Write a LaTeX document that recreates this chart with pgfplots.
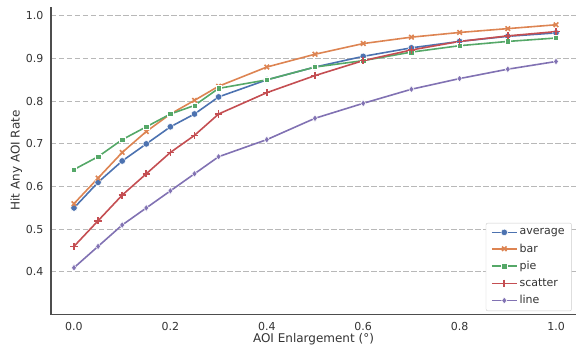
\documentclass[border=0pt]{standalone}
\usepackage{fontspec}
\setmainfont{DejaVu Sans}
\usepackage{pgfplots}
\pgfplotsset{compat=1.18}
\definecolor{cblue}{HTML}{4C72B0}
\definecolor{corange}{HTML}{DD8452}
\definecolor{cgreen}{HTML}{55A868}
\definecolor{cred}{HTML}{C44E52}
\definecolor{cpurple}{HTML}{8172B3}
\definecolor{spine}{HTML}{4D4D4D}
\definecolor{txt}{HTML}{333333}
\definecolor{gridc}{HTML}{B8B8B8}
\begin{document}
\begin{tikzpicture}
\useasboundingbox (-51pt,-36.5pt) rectangle (526pt,314.5pt);
\begin{axis}[
  at={(0,0)}, anchor=south west,
  scale only axis, width=525pt, height=308pt,
  xmin=-0.0477, xmax=1.0415, ymin=0.3004, ymax=1.0218,
  axis lines*=left,
  axis line style={spine, line width=1.2pt},
  separate axis lines,
  x axis line style={-}, y axis line style={-},
  xtick={0,0.2,0.4,0.6,0.8,1.0},
  ytick={0.4,0.5,0.6,0.7,0.8,0.9,1.0},
  major tick length=0pt,
  xticklabel style={font=\fontsize{11}{13}\selectfont, text=txt, yshift=-4pt},
  yticklabel style={font=\fontsize{11}{13}\selectfont, text=txt, xshift=-4pt},
  /pgf/number format/assume math mode=true,
  /pgf/number format/.cd, fixed, fixed zerofill, precision=1, /pgfplots/.cd,
  ymajorgrids,
  major grid style={gridc, line width=1pt, dash pattern=on 5.5pt off 2.5pt},
  xlabel={AOI Enlargement (°)},
  ylabel={Hit Any AOI Rate},
  label style={font=\fontsize{12}{14}\selectfont, text=txt},
  xlabel style={yshift=4pt},
  ylabel style={yshift=-3pt},
  legend style={at={(0.992,0.011)}, anchor=south east, draw=black!20, rounded corners=2pt,
    fill=white, font=\fontsize{11}{13}\selectfont, text=txt,
    row sep=3.6pt, inner xsep=5pt, inner ysep=3.5pt},
  legend cell align=left,
  legend image code/.code={%
    \draw[mark repeat=2, mark phase=2, line width=1.6pt, #1]
      plot coordinates {(0pt,0pt) (12.5pt,0pt) (25pt,0pt)};},
  every axis plot/.append style={line width=1.6pt},
]
\addplot[cblue, mark=*, mark size=3.3pt, mark options={draw=white, line width=0.5pt, fill=cblue}] coordinates {
(0,0.550) (0.05,0.610) (0.1,0.660) (0.15,0.700) (0.2,0.740) (0.25,0.770) (0.3,0.810)
(0.4,0.850) (0.5,0.880) (0.6,0.905) (0.7,0.925) (0.8,0.940) (0.9,0.952) (1.0,0.960)};
\addlegendentry{average}
\addplot[corange, mark=x, mark size=3.2pt, mark options={line width=1.6pt}] coordinates {
(0,0.560) (0.05,0.620) (0.1,0.680) (0.15,0.729) (0.2,0.770) (0.25,0.802) (0.3,0.835)
(0.4,0.880) (0.5,0.910) (0.6,0.935) (0.7,0.950) (0.8,0.961) (0.9,0.970) (1.0,0.979)};
\addlegendentry{bar}
\addplot[cgreen, mark=square*, mark size=2.7pt, mark options={draw=white, line width=0.5pt, fill=cgreen}] coordinates {
(0,0.640) (0.05,0.670) (0.1,0.710) (0.15,0.740) (0.2,0.770) (0.25,0.790) (0.3,0.830)
(0.4,0.850) (0.5,0.880) (0.6,0.895) (0.7,0.915) (0.8,0.930) (0.9,0.940) (1.0,0.948)};
\addlegendentry{pie}
\addplot[cred, mark=+, mark size=3.6pt, mark options={line width=1.6pt}] coordinates {
(0,0.460) (0.05,0.520) (0.1,0.580) (0.15,0.630) (0.2,0.680) (0.25,0.720) (0.3,0.770)
(0.4,0.820) (0.5,0.860) (0.6,0.895) (0.7,0.920) (0.8,0.940) (0.9,0.953) (1.0,0.963)};
\addlegendentry{scatter}
\addplot[cpurple, mark=diamond*, mark size=3.4pt, mark options={draw=white, line width=0.5pt, fill=cpurple}] coordinates {
(0,0.410) (0.05,0.460) (0.1,0.510) (0.15,0.550) (0.2,0.590) (0.25,0.630) (0.3,0.670)
(0.4,0.710) (0.5,0.760) (0.6,0.795) (0.7,0.828) (0.8,0.853) (0.9,0.875) (1.0,0.893)};
\addlegendentry{line}
\end{axis}
\end{tikzpicture}
\end{document}
